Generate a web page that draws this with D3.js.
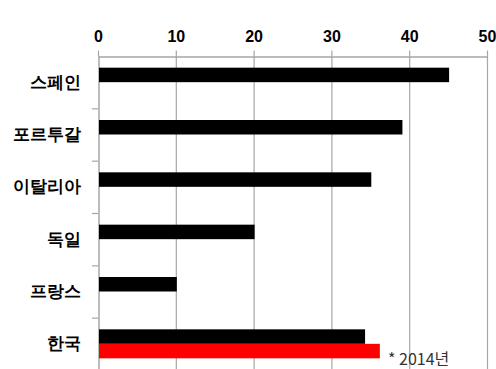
<!DOCTYPE html>
<html>
<head>
<meta charset="utf-8">
<script src="https://cdn.jsdelivr.net/npm/d3@7"></script>
<style>
  body { margin: 0; background: #fff; }
  svg { display: block; font-family: "Noto Sans CJK KR", "Noto Sans", sans-serif; }
</style>
</head>
<body>
<script>
const countries = ["스페인", "포르투갈", "이탈리아", "독일", "프랑스", "한국"];
const seriesA = [45, 39, 35, 20, 10, 34.2];
const seriesB = [null, null, null, null, null, 36.1];
const xTicks = [0, 10, 20, 30, 40, 50];
const note = "* 2014년";

const width = 496, height = 369;
const margin = {top: 56, left: 98, right: 9, bottom: -1};

const svg = d3.select("body").append("svg")
    .attr("width", width)
    .attr("height", height);

const x = d3.scaleLinear()
    .domain([0, 50])
    .range([margin.left, width - margin.right]);

const y = d3.scaleBand()
    .domain(countries)
    .range([margin.top, height - margin.bottom])
    .paddingInner(0)
    .paddingOuter(0);

// vertical grid
svg.append("g")
  .selectAll("line")
  .data(xTicks.slice(1))
  .join("line")
    .attr("x1", d => x(d) + 0.5)
    .attr("x2", d => x(d) + 0.5)
    .attr("y1", margin.top)
    .attr("y2", height)
    .attr("stroke", "#a6a6a6")
    .attr("stroke-width", 1.2);

// top axis
const xAxis = svg.append("g")
    .attr("transform", `translate(0,${margin.top + 0.5})`)
    .call(d3.axisTop(x).tickValues(xTicks).tickSize(6).tickPadding(9).tickSizeOuter(0));
xAxis.select(".domain").attr("stroke", "#a6a6a6").attr("stroke-width", 1.5);
xAxis.selectAll(".tick line").attr("stroke", "#a6a6a6").attr("stroke-width", 1.2);
xAxis.selectAll(".tick text")
    .attr("fill", "#000")
    .attr("font-size", 16)
    .attr("font-weight", "bold");

// left axis
const yAxis = svg.append("g")
    .attr("transform", `translate(${margin.left + 0.5},0)`)
    .call(d3.axisLeft(y).tickSize(0).tickPadding(18));
yAxis.select(".domain").attr("stroke", "#a6a6a6").attr("stroke-width", 1.5);
yAxis.selectAll(".tick text")
    .attr("fill", "#000")
    .attr("font-size", 17)
    .attr("font-weight", "bold");

// category separators
svg.append("g")
  .selectAll("line")
  .data(countries.slice(1))
  .join("line")
    .attr("x1", margin.left - 6)
    .attr("x2", margin.left)
    .attr("y1", d => y(d) + 0.5)
    .attr("y2", d => y(d) + 0.5)
    .attr("stroke", "#a6a6a6")
    .attr("stroke-width", 1.2);

const barH = 14.5;

svg.append("g")
  .selectAll("rect")
  .data(countries.map((c, i) => ({c, v: seriesA[i]})))
  .join("rect")
    .attr("x", x(0) + 1)
    .attr("y", d => y(d.c) + y.bandwidth() / 2 - barH)
    .attr("width", d => x(d.v) - x(0))
    .attr("height", barH)
    .attr("fill", "#000");

svg.append("g")
  .selectAll("rect")
  .data(countries.map((c, i) => ({c, v: seriesB[i]})).filter(d => d.v != null))
  .join("rect")
    .attr("x", x(0) + 1)
    .attr("y", d => y(d.c) + y.bandwidth() / 2)
    .attr("width", d => x(d.v) - x(0))
    .attr("height", barH)
    .attr("fill", "#ff0000");

svg.append("text")
    .attr("x", 388)
    .attr("y", 365)
    .attr("font-size", 16)
    .attr("fill", "#333")
    .text(note);
</script>
</body>
</html>
